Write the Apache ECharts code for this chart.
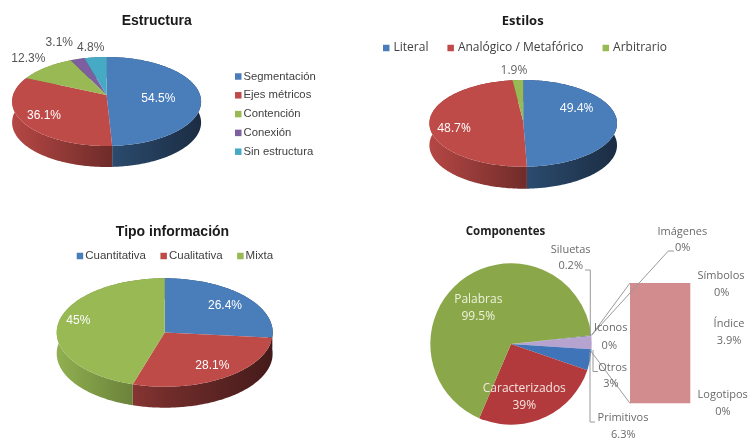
<!DOCTYPE html>
<html><head><meta charset="utf-8">
<style>html,body{margin:0;padding:0;background:#fff}#c{width:749px;height:440px;filter:blur(0.35px)}</style>
<script src="https://cdn.jsdelivr.net/npm/echarts@6/dist/echarts.min.js"></script>
</head><body><div id="c"></div>
<script>
// ---- data ----
const estructuraNames = ['Segmentación','Ejes métricos','Contención','Conexión','Sin estructura'];
const estructuraValues = [54.5,36.1,12.3,3.1,4.8];
const estilosNames = ['Literal','Analógico / Metafórico','Arbitrario'];
const estilosValues = [49.4,48.7,1.9];
const tipoNames = ['Cuantitativa','Cualitativa','Mixta'];
const tipoValues = [26.4,28.1,45];
const compPieNames = ['Siluetas','Otros','Primitivos','Caracterizados','Palabras'];
const compPieValues = [0.2,3.9,6.3,39,99.5];
const compBarNames = ['Logotipos','Índice','Símbolos','Imágenes','Iconos'];
const compBarValues = [0,3.9,0,0,0];
const otrosShownLabel = '3%';

// ---- layout & style ----
const BLUE='#4a7ebb',RED='#be4b48',GREEN='#98b954',PURPLE='#7d5fa0',CYAN='#46aac4';
const SANS='"Liberation Sans",Arial,sans-serif', SOFT='"Open Sans",sans-serif';
const pies = [
 {names:estructuraNames,values:estructuraValues,colors:[BLUE,RED,GREEN,PURPLE,CYAN],
  cx:106.6,rx:94.5,top:57,bottom:146,k:0.146,depth:21,font:SANS,size:12,
  labels:[[158.3,99,'#fff'],[44,115.7,'#fff'],[28.3,58.7,'#555'],[59.3,42.3,'#555'],[90.7,47.3,'#555']]},
 {names:estilosNames,values:estilosValues,colors:[BLUE,RED,GREEN],
  cx:523.2,rx:93.8,top:80,bottom:166.7,k:0.05,depth:22,font:SOFT,size:12,
  labels:[[576.7,108.3,'#fff'],[454,128.3,'#fff'],[514,70.7,'#666']]},
 {names:tipoNames,values:tipoValues,colors:[BLUE,RED,GREEN],
  cx:164.7,rx:108,top:278.3,bottom:386.7,k:0,depth:21,font:SANS,size:12,
  labels:[[225,305.7,'#fff'],[212.3,365.7,'#fff'],[78.3,321,'#fff']]}
];
function shade(hex,m){
  const n=parseInt(hex.slice(1),16);
  const f=v=>Math.round(v*m);
  return 'rgb('+f(n>>16)+','+f((n>>8)&255)+','+f(n&255)+')';
}
function project(p,theta,down){
  const k=p.k, x=Math.sin(theta), y=-Math.cos(theta), w=1-k*y;
  const b=(p.bottom-p.top)/(1/(1+k)+1/(1-k));
  const yc=p.top+b/(1+k), a=p.rx*Math.sqrt(1-k*k);
  return [p.cx+a*x/w, yc+b*y/w+down];
}
function sliceSeries(p,i){
  const total=p.values.reduce((s,v)=>s+v,0);
  const before=p.values.slice(0,i).reduce((s,v)=>s+v,0);
  return {
    type:'custom',name:p.names[i],coordinateSystem:'none',
    itemStyle:{color:p.colors[i]},data:[[p.values[i]]],
    renderItem:function(params,api){
      const v=api.value(0);
      const t0=before/total*2*Math.PI, t1=(before+v)/total*2*Math.PI;
      const n=Math.max(2,Math.ceil((t1-t0)/(Math.PI/180)));
      const arc=[],low=[];
      for(let j=0;j<=n;j++){const t=t0+(t1-t0)*j/n;arc.push(project(p,t,0));low.push(project(p,t,p.depth));}
      const centre=[p.cx,p.top+((p.bottom-p.top)/(1/(1+p.k)+1/(1-p.k)))/(1+p.k)];
      const base=p.colors[i];
      const grad=new echarts.graphic.LinearGradient(p.cx-p.rx,0,p.cx+p.rx,0,[
        {offset:0,color:shade(base,0.95)},{offset:0.5,color:shade(base,0.6)},{offset:1,color:shade(base,0.36)}],true);
      return {type:'group',children:[
        {type:'polygon',z2:1,shape:{points:arc.concat(low.slice().reverse())},style:{fill:grad}},
        {type:'polygon',z2:10,shape:{points:[centre].concat(arc)},style:{fill:base}},
        {type:'text',z2:20,style:{text:v+'%',x:p.labels[i][0],y:p.labels[i][1],fill:p.labels[i][2],
          font:p.size+'px '+p.font,align:'center',verticalAlign:'middle'}}
      ]};
    }
  };
}
const series=[];
pies.forEach(p=>p.names.forEach((_,i)=>series.push(sliceSeries(p,i))));

// Componentes pie of bar
series.push({type:'pie',name:'Componentes',center:[511,344],radius:[0,80.7],startAngle:6.2,clockwise:true,
  animation:false,silent:true,label:{show:false},labelLine:{show:false},
  data:compPieNames.map((n,i)=>({name:n,value:compPieValues[i],
    itemStyle:{color:['#4a5a70','#b7a3d0','#3f74b8','#b33a3c','#8aa84a'][i]}}))});
compBarNames.forEach((n,i)=>series.push({type:'bar',name:n,stack:'otros',barWidth:'100%',
  xAxisIndex:0,yAxisIndex:0,silent:true,itemStyle:{color:'#d28c8e'},data:[compBarValues[i]]}));

function t(text,x,y,fill,size,weight){
  return {type:'text',z:30,style:{text:String(text),x:x,y:y,fill:fill||'#6a6a6a',font:(weight||'normal')+' '+(size||11)+'px '+SOFT,align:'center',verticalAlign:'middle'}};
}
function line(points){
  return {type:'polyline',z:25,shape:{points:points},style:{stroke:'#9a9a9a',lineWidth:1,fill:null}};
}
const barIdx=n=>compBarNames.indexOf(n), pieIdx=n=>compPieNames.indexOf(n);
const graphics=[
 line([[585,270],[590.3,270],[590.3,335]]),
 line([[674,251],[668.3,251],[591.7,335]]),
 line([[591.7,335],[630,283]]),
 line([[590,350],[630,403.3]]),
 line([[598,371.5],[593,371.5],[593,350]]),
 line([[595,422],[590,422],[590,352]]),
 t('Palabras',478.3,300,'#eef2dc',12), t(compPieValues[pieIdx('Palabras')]+'%',478.3,316.7,'#eef2dc',12),
 t('Caracterizados',524.3,389,'#f3e6e0',12), t(compPieValues[pieIdx('Caracterizados')]+'%',524.3,406,'#f3e6e0',12),
 t('Siluetas',570.7,250), t(compPieValues[pieIdx('Siluetas')]+'%',570.7,265.7),
 t('Imágenes',682.3,231.7), t(compBarValues[barIdx('Imágenes')]+'%',682.7,248),
 t('Símbolos',721,276), t(compBarValues[barIdx('Símbolos')]+'%',721.7,292.7),
 t('Índice',729,324.3), t(compBarValues[barIdx('Índice')]+'%',729,341),
 t('Logotipos',722.7,395), t(compBarValues[barIdx('Logotipos')]+'%',723,412.3),
 t('Iconos',610.7,328.3), t(compBarValues[barIdx('Iconos')]+'%',609.3,346),
 t('Otros',612.7,367.7), t(otrosShownLabel,611,384.3),
 t('Primitivos',623,417.7), t(compPieValues[pieIdx('Primitivos')]+'%',623.3,435),
 t('Componentes',505.5,231.7,'#222',11.5,'bold')
];
const titleOf=(text,x,y,f,size)=>({text:text,left:x,top:y,textAlign:'center',padding:0,
  textStyle:{fontFamily:f,fontSize:size,fontWeight:'bold',color:'#1a1a1a'}});
const legendOf=(names,o,f,size,gap,pad)=>Object.assign({data:names,icon:'rect',itemWidth:6.5,itemHeight:6.5,padding:0,
  itemGap:gap,selectedMode:false,textStyle:{fontFamily:f,fontSize:size,color:'#404040',padding:[0,0,0,pad]}},o);

const chart=echarts.init(document.getElementById('c'),null,{renderer:'canvas'});
chart.setOption({
  animation:false,backgroundColor:'#fff',
  title:[titleOf('Estructura',156.7,14.5,SANS,14),titleOf('Estilos',522.7,15,SOFT,13),titleOf('Tipo información',172.5,225.5,SANS,14)],
  legend:[
    legendOf(estructuraNames,{left:235,top:71,orient:'vertical'},SANS,11.3,7.8,-3),
    legendOf(estilosNames,{left:383,top:42},SOFT,12,19,-1),
    legendOf(tipoNames,{left:76.7,top:250},SANS,11.5,14.5,-3)
  ],
  grid:{left:630,top:283,width:60.3,height:120.3,containLabel:false},
  xAxis:{type:'category',data:['Otros'],show:false},
  yAxis:{type:'value',min:0,max:3.9,show:false},
  graphic:graphics,
  series:series
});
</script></body></html>
